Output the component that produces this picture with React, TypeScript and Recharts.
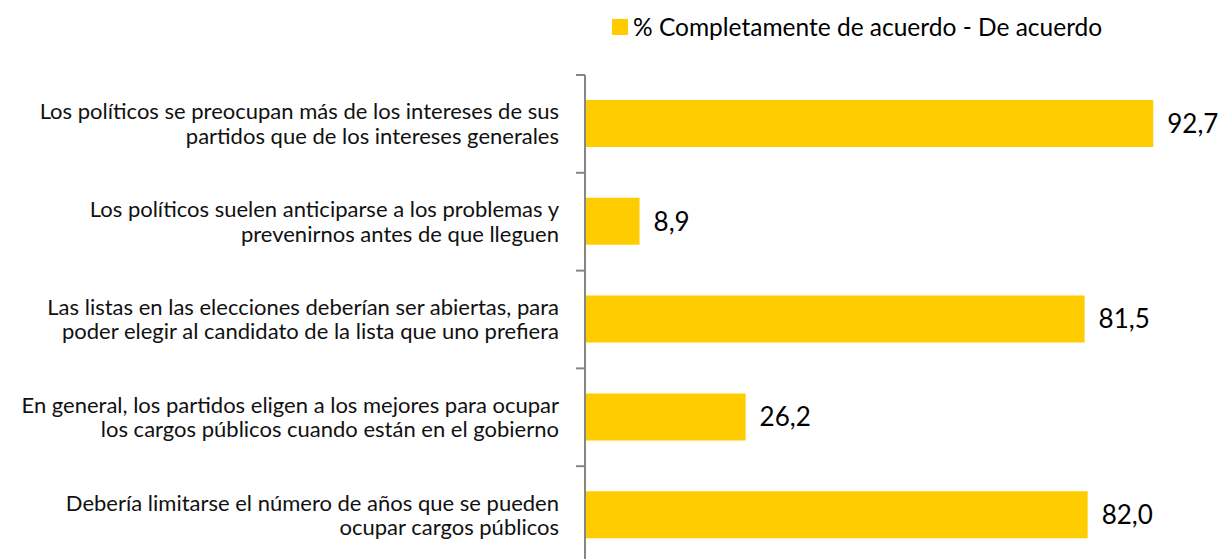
import { BarChart, Bar, XAxis, YAxis, LabelList } from 'recharts';

const categories = [
  'Los políticos se preocupan más de los intereses de sus\npartidos que de los intereses generales',
  'Los políticos suelen anticiparse a los problemas y\nprevenirnos antes de que lleguen',
  'Las listas en las elecciones deberían ser abiertas, para\npoder elegir al candidato de la lista que uno prefiera',
  'En general, los partidos eligen a los mejores para ocupar\nlos cargos públicos cuando están en el gobierno',
  'Debería limitarse el número de años que se pueden\nocupar cargos públicos',
];
const acuerdo = [92.7, 8.9, 81.5, 26.2, 82.0];
const seriesName = '% Completamente de acuerdo - De acuerdo';

const data = categories.map((c, i) => ({ name: c, value: acuerdo[i] }));

const FONT = 'Lato, "Open Sans", sans-serif';
const YELLOW = '#FFCC00';
const AXIS = '#868686';

function CategoryTick(props: any) {
  const { x, y, payload } = props;
  const lines: string[] = String(payload.value).split('\n');
  const half = payload.offset ?? 48.9;
  const axisX = x + 26;
  const lineH = 24.5;
  const startY = y - ((lines.length - 1) * lineH) / 2;
  return (
    <g>
      <line x1={axisX - 9} x2={axisX} y1={y - half} y2={y - half} stroke={AXIS} strokeWidth={2} />
      <text textAnchor="end" fontFamily={FONT} fontSize={22} fill="#111">
        {lines.map((l, i) => (
          <tspan key={i} x={x} y={startY + i * lineH} dy="0.35em">
            {l}
          </tspan>
        ))}
      </text>
    </g>
  );
}

export default function App() {
  return (
    <div style={{ position: 'absolute', left: 0, top: 0, width: 1221, height: 559, overflow: 'hidden', background: '#fff' }}>
      <div
        style={{
          position: 'absolute',
          top: 12,
          left: 612,
          display: 'flex',
          alignItems: 'center',
          fontFamily: FONT,
          fontSize: 24.5,
          color: '#000',
          whiteSpace: 'nowrap',
        }}
      >
        <span style={{ width: 16, height: 16, background: YELLOW, display: 'inline-block', marginRight: 5 }} />
        <span>{seriesName}</span>
      </div>
      <BarChart
        width={1221}
        height={580}
        data={data}
        layout="vertical"
        margin={{ top: 75, right: 23, bottom: 16, left: 0 }}
      >
        <XAxis type="number" domain={[0, 100]} hide />
        <YAxis
          type="category"
          dataKey="name"
          width={585}
          axisLine={{ stroke: AXIS, strokeWidth: 2 }}
          tickLine={false}
          tickMargin={0}
          tickSize={26}
          tick={<CategoryTick />}
          interval={0}
        />
        <Bar dataKey="value" name={seriesName} fill={YELLOW} barSize={47} isAnimationActive={false}>
          <LabelList
            dataKey="value"
            position="right"
            offset={14}
            formatter={(v: any) => Number(v).toFixed(1).replace('.', ',')}
            style={{ fontFamily: FONT, fontSize: 26, fill: '#000' }}
          />
        </Bar>
      </BarChart>
    </div>
  );
}
